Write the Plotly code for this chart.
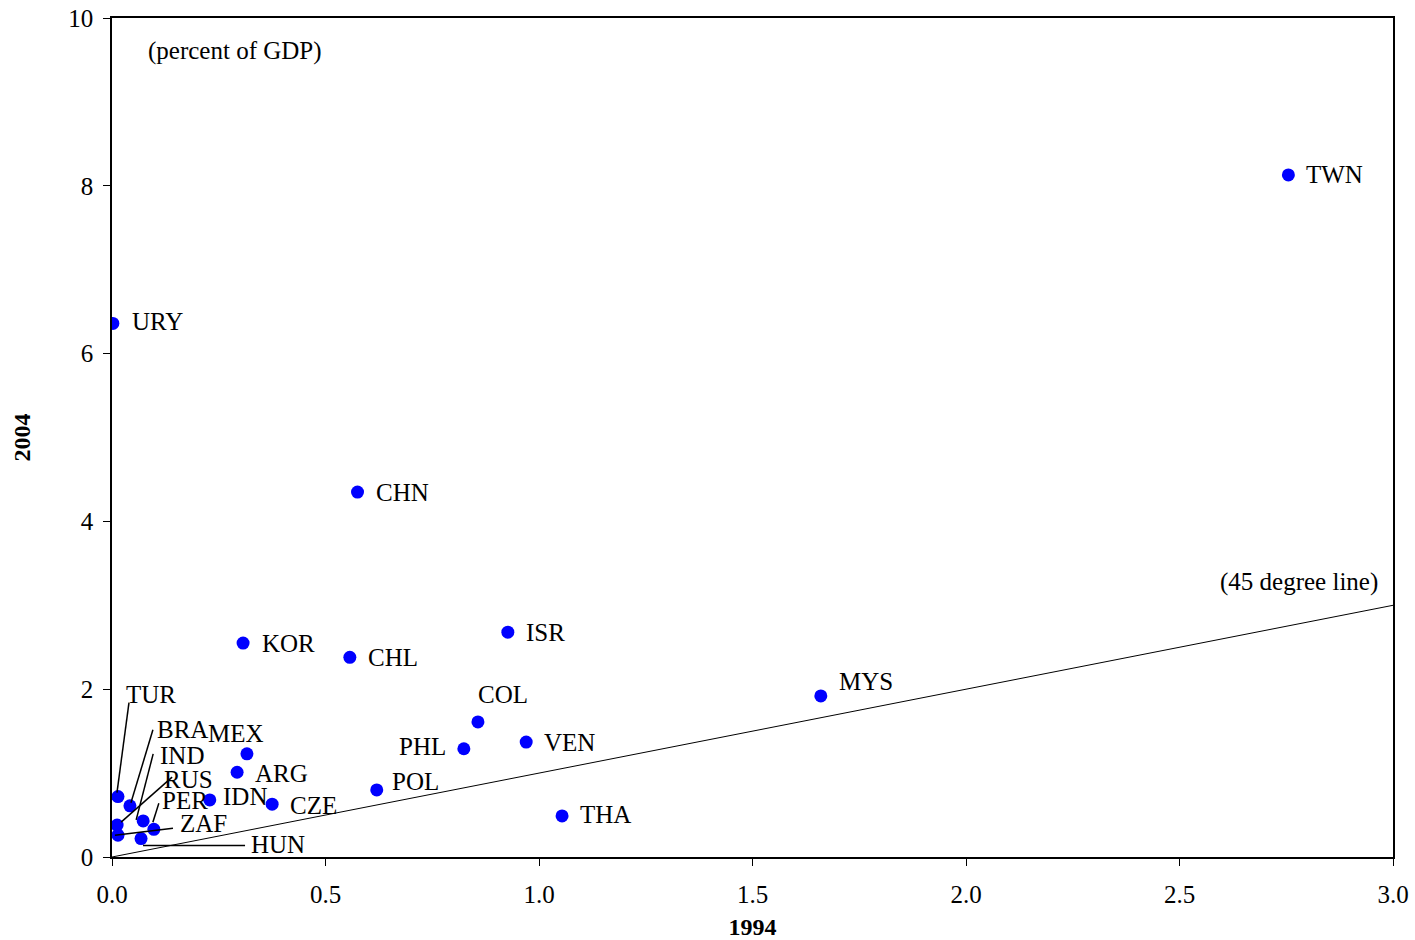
import plotly.graph_objects as go

countries = ["TWN", "URY", "CHN", "KOR", "CHL", "ISR", "MYS", "COL", "PHL", "VEN",
             "THA", "POL", "MEX", "ARG", "IDN", "CZE",
             "TUR", "BRA", "IND", "RUS", "PER", "ZAF", "HUN"]
x1994 = [2.755, 0.002, 0.575, 0.307, 0.557, 0.927, 1.660, 0.857, 0.824, 0.970,
         1.054, 0.620, 0.316, 0.293, 0.229, 0.375,
         0.014, 0.042, 0.073, 0.012, 0.098, 0.014, 0.068]
y2004 = [8.13, 6.36, 4.35, 2.55, 2.38, 2.68, 1.92, 1.61, 1.29, 1.37,
         0.49, 0.80, 1.23, 1.01, 0.68, 0.63,
         0.72, 0.61, 0.43, 0.38, 0.33, 0.26, 0.22]

# label placement: (xanchor, xshift px, yshift px)
label_pos = {
    "TWN": ("left", 16, 0), "URY": ("left", 17, 2), "CHN": ("left", 16, 0),
    "KOR": ("left", 17, 0), "CHL": ("left", 16, 0), "ISR": ("left", 16, 0),
    "MYS": ("left", 16, 14), "COL": ("center", 25, 27), "PHL": ("right", -16, 2),
    "VEN": ("left", 16, 0), "THA": ("left", 16, 1), "POL": ("left", 13, 8),
    "MEX": ("right", 19, 20), "ARG": ("left", 16, -1), "IDN": ("left", 11, 3),
    "CZE": ("left", 16, -1),
    "TUR": ("left", 6, 102), "BRA": ("left", 25, 76), "IND": ("left", 15, 65),
    "RUS": ("left", 45, 46), "PER": ("left", 6, 29), "ZAF": ("left", 60, 12),
    "HUN": ("left", 108, -6),
}
# leader lines (pixel offsets from the point: dx0, dy0, dx1, dy1; dy up)
leaders = {
    "TUR": (-1, 4, 11, 94), "BRA": (1, 3, 23, 76), "IND": (-7, 1, 10, 67),
    "RUS": (4, 3, 55, 48), "PER": (-1, 7, 5, 26), "ZAF": (-3, 0, 55, 7),
    "HUN": (2, -7, 104, -7),
}

serif = "Liberation Serif, Times New Roman, serif"
FS = 25

fig = go.Figure()
diag = [0, 3]
fig.add_trace(go.Scatter(x=diag, y=diag, mode="lines",
                         line=dict(color="black", width=1), hoverinfo="skip",
                         showlegend=False))
fig.add_trace(go.Scatter(x=x1994, y=y2004, mode="markers",
                         marker=dict(color="#0000FF", size=13, line=dict(width=0)),
                         text=countries, showlegend=False))

for c, xv, yv in zip(countries, x1994, y2004):
    anc, xs, ys = label_pos[c]
    fig.add_annotation(x=xv, y=yv, text=c, showarrow=False, xanchor=anc,
                       yanchor="middle", xshift=xs, yshift=ys,
                       font=dict(family=serif, size=FS, color="black"))
    if c in leaders:
        dx0, dy0, dx1, dy1 = leaders[c]
        fig.add_shape(type="line", xref="x", yref="y",
                      xsizemode="pixel", ysizemode="pixel",
                      xanchor=xv, yanchor=yv,
                      x0=dx0, y0=dy0, x1=dx1, y1=dy1,
                      line=dict(color="black", width=1.5), layer="above")

fig.add_annotation(x=0.0, y=10, xref="x", yref="y", text="(percent of GDP)",
                   showarrow=False, xanchor="left", yanchor="top",
                   xshift=34, yshift=-17,
                   font=dict(family=serif, size=FS, color="black"))
fig.add_annotation(x=3.0, y=3.0, xref="x", yref="y", text="(45 degree line)",
                   showarrow=False, xanchor="right", yanchor="bottom",
                   xshift=-13, yshift=7,
                   font=dict(family=serif, size=FS, color="black"))

fig.update_xaxes(range=[0, 3], tickvals=[0, 0.5, 1, 1.5, 2, 2.5, 3],
                 ticktext=["0.0", "0.5", "1.0", "1.5", "2.0", "2.5", "3.0"],
                 ticks="outside", ticklen=7, tickcolor="black",
                 ticklabelstandoff=7, ticklabeloverflow="allow",
                 showline=True, linecolor="black", linewidth=1.5, mirror=True,
                 showgrid=False, zeroline=False,
                 tickfont=dict(family=serif, size=FS, color="black"),
                 title=dict(text="<b>1994</b>", standoff=21,
                            font=dict(family=serif, size=24, color="black")))
fig.update_yaxes(range=[0, 10], tickvals=[0, 2, 4, 6, 8, 10],
                 ticks="outside", ticklen=7, tickcolor="black",
                 ticklabelstandoff=5, ticklabeloverflow="allow",
                 showline=True, linecolor="black", linewidth=1.5, mirror=True,
                 showgrid=False, zeroline=False,
                 tickfont=dict(family=serif, size=FS, color="black"),
                 title=dict(text="<b>2004</b>", standoff=31,
                            font=dict(family=serif, size=24, color="black")))

fig.update_layout(width=1415, height=940,
                  margin=dict(l=112, r=22, t=18, b=83, autoexpand=False),
                  plot_bgcolor="white", paper_bgcolor="white",
                  showlegend=False)

fig.write_html("out.html", config={"displayModeBar": False},
               post_script="document.body.style.margin='0';"
                           "document.body.style.overflow='hidden';")
